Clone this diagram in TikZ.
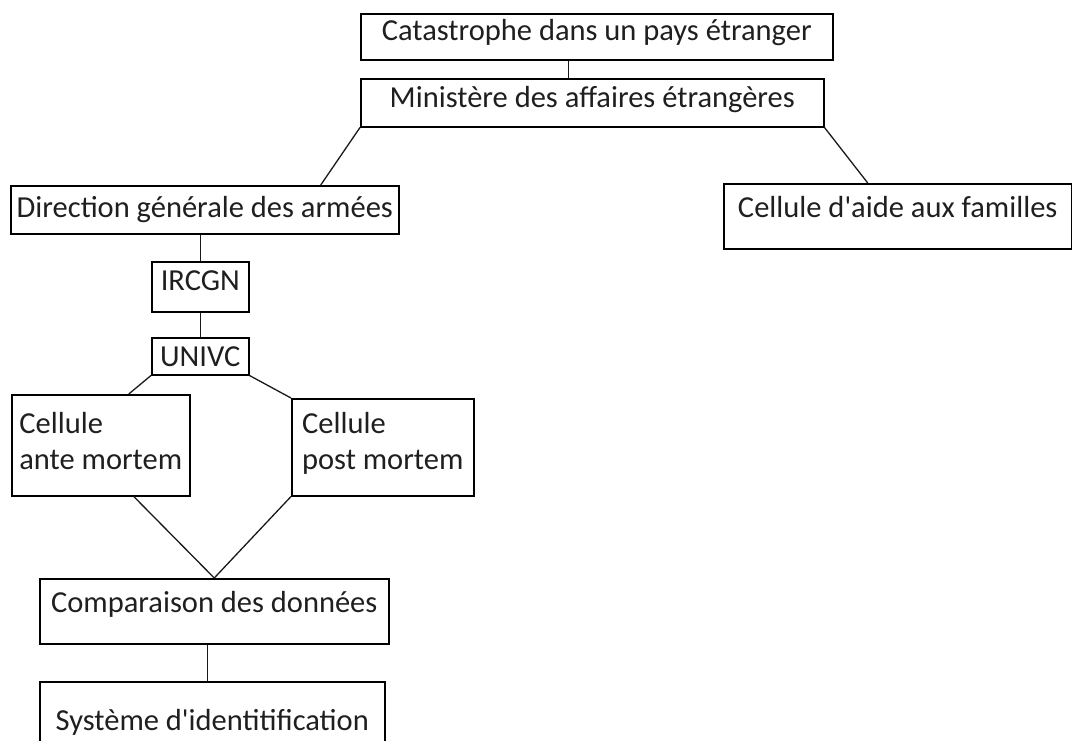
\documentclass[tikz,border=0pt]{standalone}
\usepackage{fontspec}
\setmainfont{Carlito}

\begin{document}
\begin{tikzpicture}[
    x=1pt, y=-1pt,
    boite/.style = {rectangle, draw, line width=1.5pt, inner sep=0pt,
        anchor=north west, text=black!88},
    ligne/.style = {text height=22pt, text depth=#1},
    trait/.style = {black!90, line width=1.3pt},
    font=\fontsize{30.5pt}{36pt}\selectfont
    ]
    \path[use as bounding box, clip] (0,0) rectangle (1072,740);
    %nodes
    \node[boite, ligne=14pt, minimum width=472pt, minimum height=46pt] (cat)
        at (360,13) {Catastrophe dans un pays étranger};
    \node[boite, ligne=12pt, minimum width=463pt, minimum height=48pt] (min)
        at (360,78) {Ministère des affaires étrangères};
    \node[boite, ligne=6pt, minimum width=388pt, minimum height=48pt] (dir)
        at (10,185) {Direction générale des armées};
    \node[boite, ligne=19pt, minimum width=348pt, minimum height=65pt] (aide)
        at (723,183) {Cellule d\textquotesingle aide aux familles};
    \node[boite, ligne=14pt, minimum width=97pt, minimum height=50pt] (ircgn)
        at (151,261) {IRCGN};
    \node[boite, ligne=2pt, minimum width=97pt, minimum height=37pt] (univc)
        at (151,337) {UNIVC};
    \node[boite, align=left, text depth=9pt, minimum width=178pt,
        minimum height=101pt] (ante)
        at (11,394) {Cellule\\ante mortem};
    \node[boite, align=left, text depth=12pt, minimum width=182pt,
        minimum height=97pt] (post)
        at (291,398) {Cellule\\post mortem};
    \node[boite, ligne=19pt, minimum width=349pt, minimum height=65pt] (comp)
        at (39,578) {Comparaison des données};
    \node[boite, text height=40pt, text depth=7pt, minimum width=345pt,
        minimum height=65pt] (sys)
        at (39,681) {Système d\textquotesingle identitification};

    % edges
    \coordinate (j1) at ([xshift=-28pt]cat.south);
    \coordinate (j2) at ([xshift=-7pt]comp.south);
    \draw[trait] (j1) -- (j1 |- min.north);
    \draw[trait] (min.south west) -- ([xshift=116pt]dir.north);
    \draw[trait] (min.south east) -- ([xshift=-30pt]aide.north);
    \draw[trait] (ircgn.north) -- (ircgn.north |- dir.south);
    \draw[trait] (ircgn.south) -- (univc.north);
    \draw[trait] (univc.south west) -- ([xshift=28pt]ante.north);
    \draw[trait] (univc.south east) -- (post.north west);
    \draw[trait] ([xshift=33pt]ante.south) -- (comp.north);
    \draw[trait] (post.south west) -- (comp.north);
    \draw[trait] (j2) -- (j2 |- sys.north);
\end{tikzpicture}
\end{document}
